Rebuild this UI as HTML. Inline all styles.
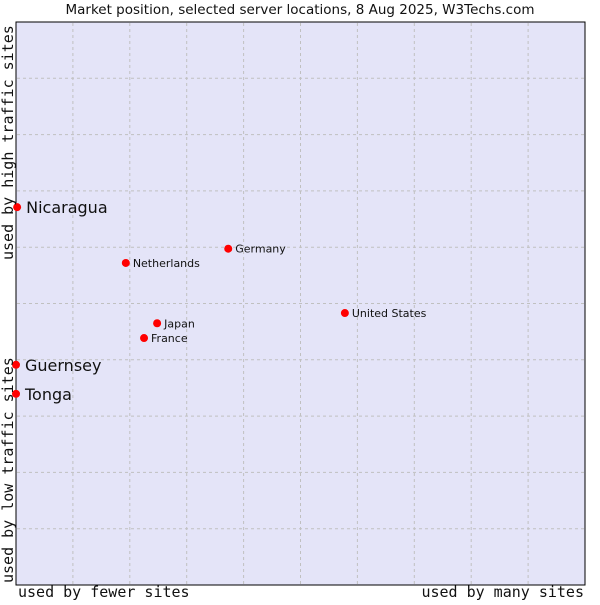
<!DOCTYPE html>
<html><head><meta charset="utf-8"><style>
body{margin:0;background:#fff}
svg text{font-family:"DejaVu Sans","Liberation Sans",sans-serif;fill:#111}
.mono{font-family:"DejaVu Sans Mono","Liberation Mono",monospace}
</style></head><body>
<svg id="c" width="600" height="600" xmlns="http://www.w3.org/2000/svg">
<text x="300" y="14" text-anchor="middle" font-size="13.5">Market position, selected server locations, 8 Aug 2025, W3Techs.com</text>
<rect x="16" y="22" width="569" height="563" fill="#e4e4f8" stroke="#000"/>
<g id="grid"></g>
<g id="pts"></g>
<text class="mono" x="18" y="597" font-size="15">used by fewer sites</text>
<text class="mono" x="584" y="597" font-size="15" text-anchor="end">used by many sites</text>
<text class="mono" transform="translate(13,583) rotate(-90)" font-size="15">used by low traffic sites</text>
<text class="mono" transform="translate(13,260) rotate(-90)" font-size="15">used by high traffic sites</text>
</svg>
<script>
const names=["Nicaragua","Guernsey","Tonga","Netherlands","Germany","Japan","France","United States"];
const xVals=[0.2,0,0,19.3,37.3,24.8,22.5,57.8];
const yVals=[66.4,38.7,33.6,56.6,59.1,46.0,43.4,47.8];
const big=[true,true,true,false,false,false,false,false];
const L=16,R=585,T=22,B=585;
const sx=v=>L+v/100*(R-L);
const ns="http://www.w3.org/2000/svg";
const g=document.getElementById('grid');
for(let i=1;i<10;i++){
 const x=L+i*(R-L)/10;
 const l=document.createElementNS(ns,'line');
 
 
 l.setAttribute('x1',x);l.setAttribute('x2',x);l.setAttribute('y1',T+1);l.setAttribute('y2',B-1);
 l.setAttribute('stroke','#c0c0c0');l.setAttribute('stroke-dasharray','3,3');g.appendChild(l);
 const y=B-i*(B-T)/10;
 const h=document.createElementNS(ns,'line');
 
 
 h.setAttribute('x1',L+1);h.setAttribute('x2',R-1);h.setAttribute('y1',y);h.setAttribute('y2',y);
 h.setAttribute('stroke','#c0c0c0');h.setAttribute('stroke-dasharray','3,3');g.appendChild(h);
}
const p=document.getElementById('pts');
names.forEach((n,i)=>{
 const x=sx(xVals[i]),y=B-yVals[i]/100*569;
 const c=document.createElementNS(ns,'circle');
 
 
 c.setAttribute('cx',x);c.setAttribute('cy',y);c.setAttribute('r',4);c.setAttribute('fill','#f00');p.appendChild(c);
 const t=document.createElementNS(ns,'text');
 
 
 t.setAttribute('x',x+(big[i]?9:7));t.setAttribute('y',y+(big[i]?6:4));
 t.setAttribute('font-size',big[i]?16:11);t.textContent=n;p.appendChild(t);
});
</script>
</body></html>
